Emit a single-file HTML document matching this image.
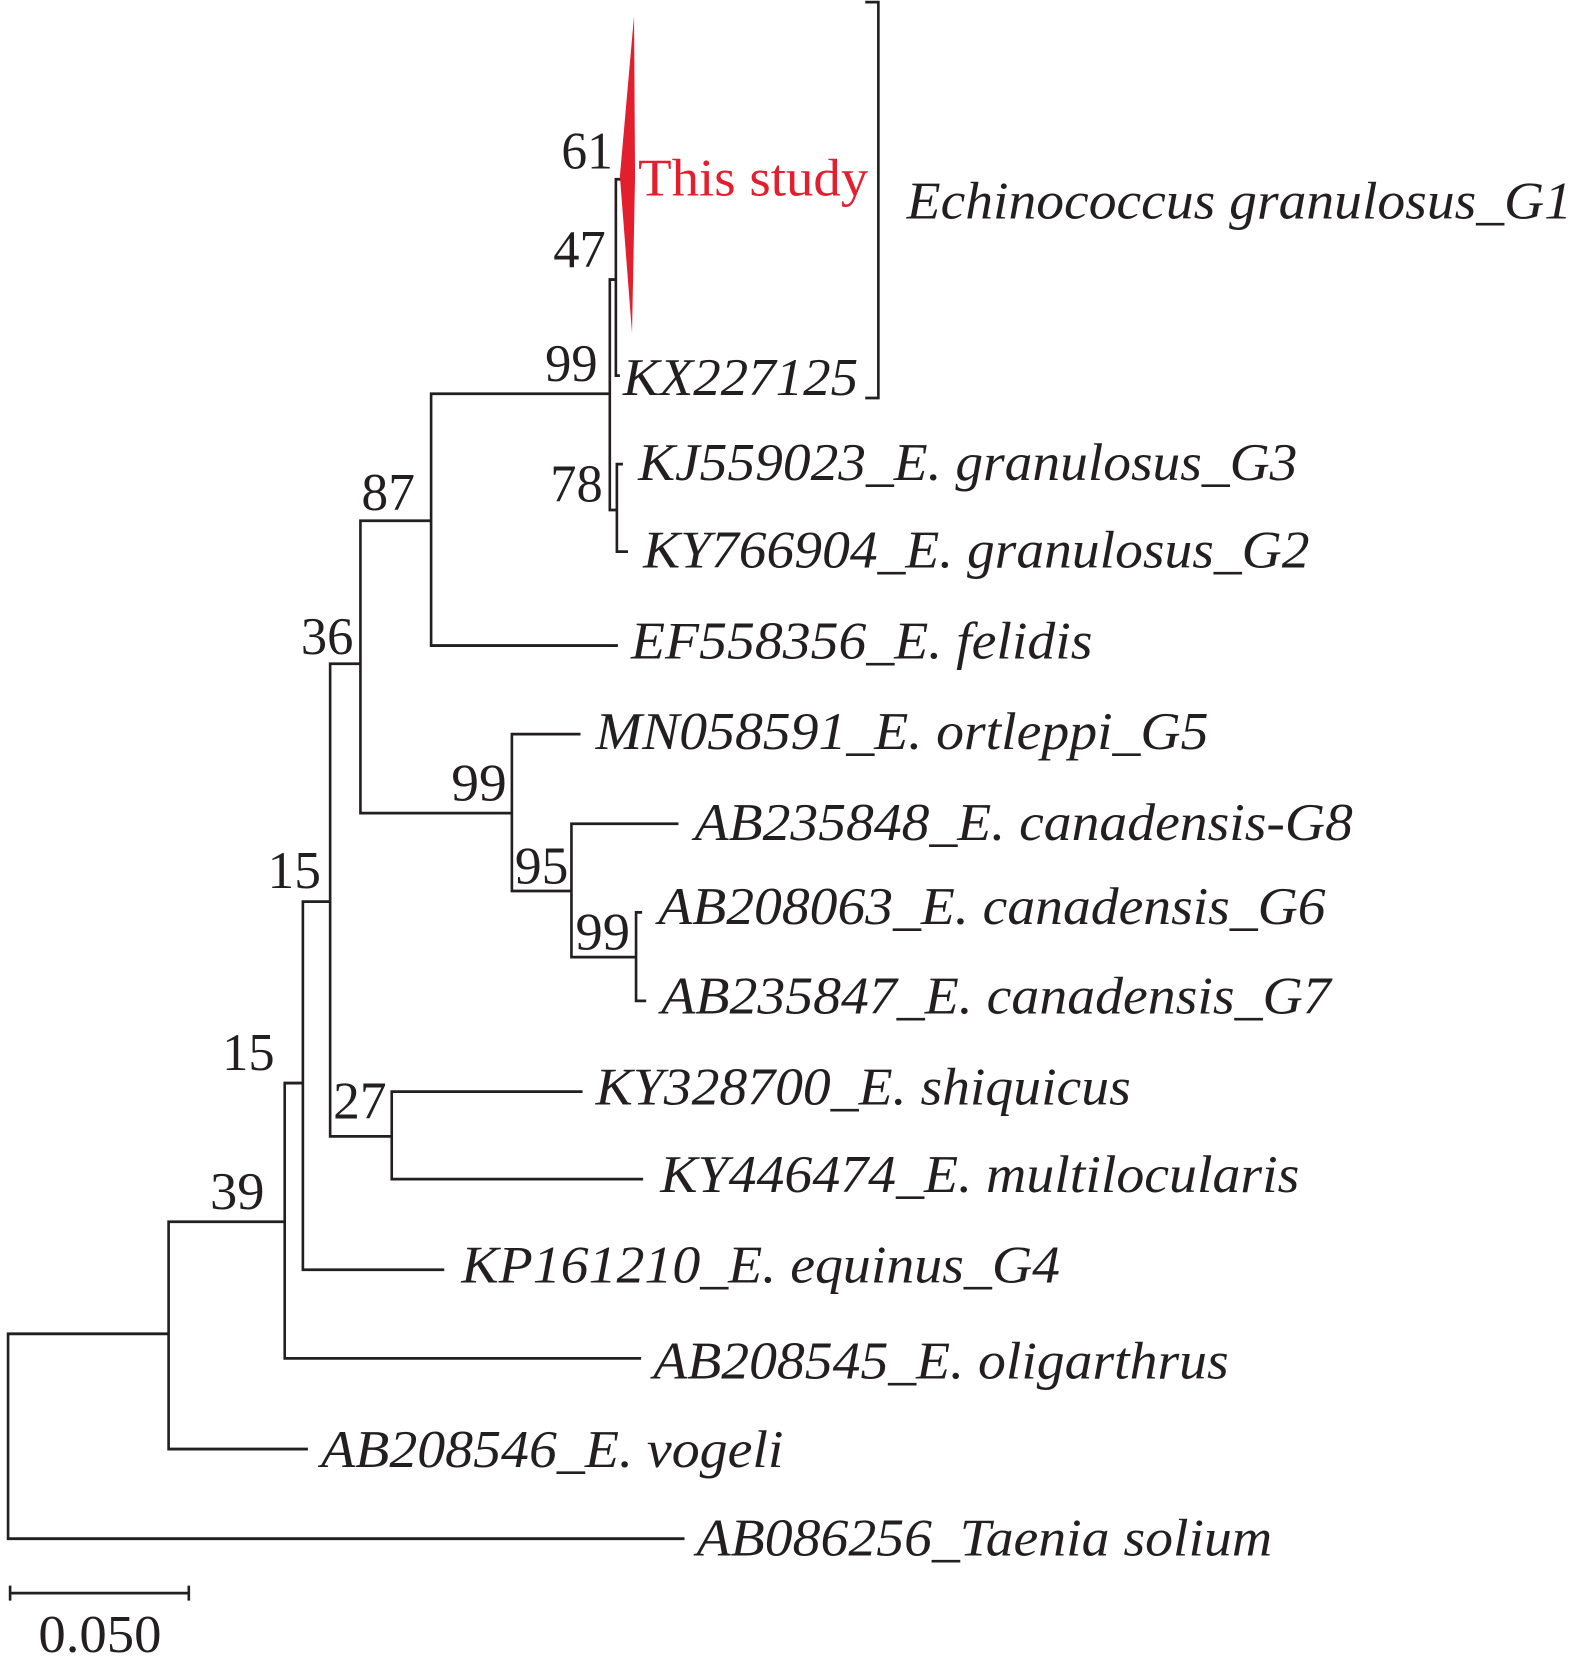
<!DOCTYPE html>
<html><head><meta charset="utf-8"><style>
html,body{margin:0;padding:0;background:#fff;}
svg{display:block;}
text{font-family:"Liberation Serif",serif;font-size:50px;fill:#231f20;}
.i{font-style:italic;}
</style></head><body>
<svg width="1575" height="1671" viewBox="0 0 1560 1566" preserveAspectRatio="none" xmlns="http://www.w3.org/2000/svg">
<g fill="none" stroke="#231f20" stroke-width="2.6">
<path d="M678 1442H8V1250H167"/>
<path d="M305 1358H167V1145H282"/>
<path d="M635 1273H282V1015H300"/>
<path d="M440 1190H300V845H327"/>
<path d="M388 1065H327V622H357"/>
<path d="M577 1023H388V1105H637"/>
<path d="M507 762H357V488H427"/>
<path d="M612 605H427V369H604"/>
<path d="M575 688H507V835H566"/>
<path d="M672 772H566V897H630"/>
<path d="M636 855H630V938H640"/>
<path d="M610 262H604V478H611"/>
<path d="M617 435H611V517H622"/>
<path d="M615 168H610V352H614"/>
<path d="M857 2H870V373H857"/>
<path d="M10 1493H187M10 1486V1500M187 1486V1500"/>
</g>
<polygon points="628,15 614,165 626,312 629,165" fill="#e31e2d"/>
<text x="632" y="183" textLength="228" lengthAdjust="spacingAndGlyphs" style="fill:#e31e2d">This study</text>
<text class="i" x="898" y="205" textLength="659" lengthAdjust="spacingAndGlyphs">Echinococcus granulosus_G1</text>
<text class="i" x="617" y="370" textLength="233" lengthAdjust="spacingAndGlyphs">KX227125</text>
<text class="i" x="632" y="450" textLength="653" lengthAdjust="spacingAndGlyphs">KJ559023_E. granulosus_G3</text>
<text class="i" x="637" y="532" textLength="660" lengthAdjust="spacingAndGlyphs">KY766904_E. granulosus_G2</text>
<text class="i" x="625" y="617" textLength="457" lengthAdjust="spacingAndGlyphs">EF558356_E. felidis</text>
<text class="i" x="590" y="702" textLength="607" lengthAdjust="spacingAndGlyphs">MN058591_E. ortleppi_G5</text>
<text class="i" x="688" y="787" textLength="652" lengthAdjust="spacingAndGlyphs">AB235848_E. canadensis-G8</text>
<text class="i" x="652" y="866" textLength="661" lengthAdjust="spacingAndGlyphs">AB208063_E. canadensis_G6</text>
<text class="i" x="655" y="950" textLength="663" lengthAdjust="spacingAndGlyphs">AB235847_E. canadensis_G7</text>
<text class="i" x="590" y="1035" textLength="530" lengthAdjust="spacingAndGlyphs">KY328700_E. shiquicus</text>
<text class="i" x="654" y="1117" textLength="633" lengthAdjust="spacingAndGlyphs">KY446474_E. multilocularis</text>
<text class="i" x="457" y="1202" textLength="593" lengthAdjust="spacingAndGlyphs">KP161210_E. equinus_G4</text>
<text class="i" x="647" y="1292" textLength="570" lengthAdjust="spacingAndGlyphs">AB208545_E. oligarthrus</text>
<text class="i" x="318" y="1375" textLength="458" lengthAdjust="spacingAndGlyphs">AB208546_E. vogeli</text>
<text class="i" x="690" y="1458" textLength="570" lengthAdjust="spacingAndGlyphs">AB086256_Taenia solium</text>
<text x="556" y="158" textLength="51" lengthAdjust="spacingAndGlyphs">61</text>
<text x="548" y="250" textLength="52" lengthAdjust="spacingAndGlyphs">47</text>
<text x="540" y="357" textLength="52" lengthAdjust="spacingAndGlyphs">99</text>
<text x="545" y="470" textLength="52" lengthAdjust="spacingAndGlyphs">78</text>
<text x="358" y="478" textLength="53" lengthAdjust="spacingAndGlyphs">87</text>
<text x="298" y="613" textLength="52" lengthAdjust="spacingAndGlyphs">36</text>
<text x="447" y="750" textLength="55" lengthAdjust="spacingAndGlyphs">99</text>
<text x="510" y="828" textLength="53" lengthAdjust="spacingAndGlyphs">95</text>
<text x="570" y="890" textLength="54" lengthAdjust="spacingAndGlyphs">99</text>
<text x="265" y="832" textLength="53" lengthAdjust="spacingAndGlyphs">15</text>
<text x="220" y="1003" textLength="52" lengthAdjust="spacingAndGlyphs">15</text>
<text x="330" y="1048" textLength="53" lengthAdjust="spacingAndGlyphs">27</text>
<text x="208" y="1133" textLength="54" lengthAdjust="spacingAndGlyphs">39</text>
<text x="38" y="1548" textLength="122" lengthAdjust="spacingAndGlyphs">0.050</text>
</svg>
</body></html>
